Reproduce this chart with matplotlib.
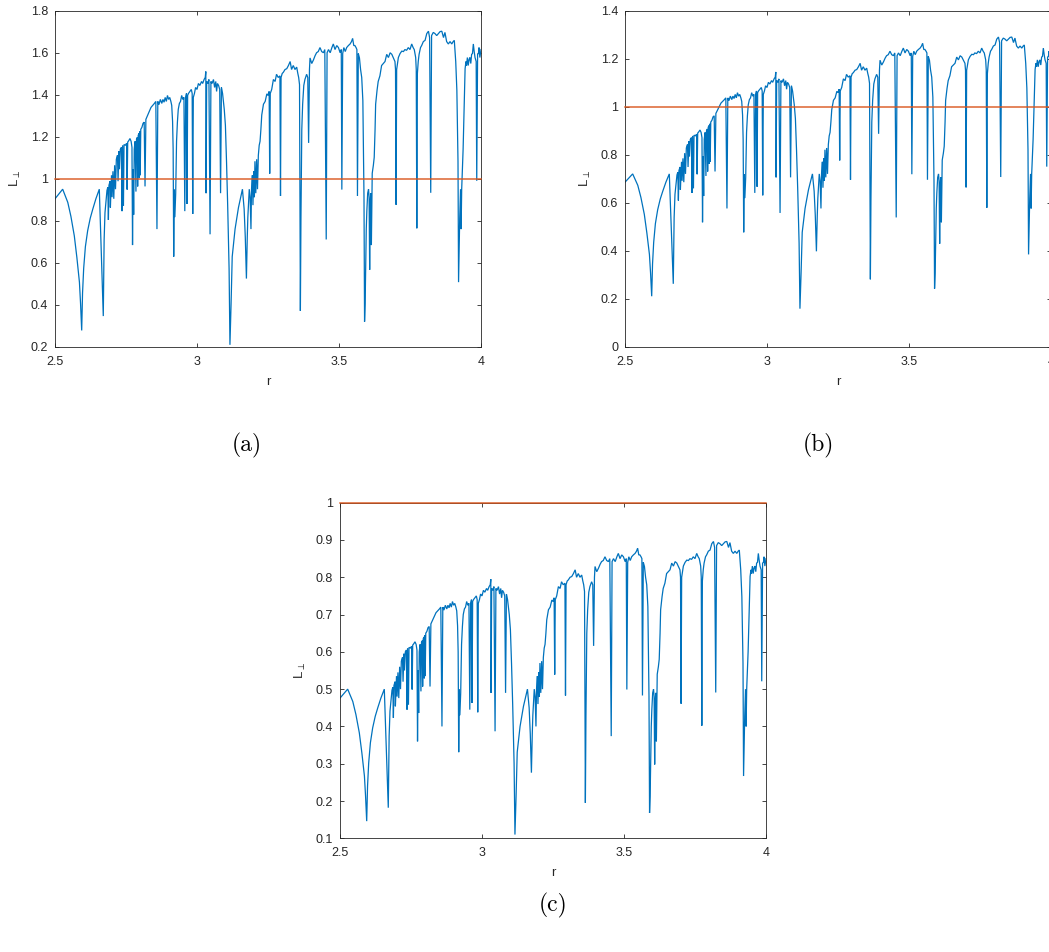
import matplotlib
matplotlib.use("Agg")
import matplotlib.pyplot as plt

# ---------------- data (panel (c) scale) ----------------
rA = [2.500, 2.527, 2.545, 2.556, 2.568, 2.577, 2.586, 2.590, 2.594, 2.597,
      2.601, 2.607, 2.615, 2.624, 2.633, 2.644, 2.656, 2.670, 2.673, 2.676, 2.683]
LA = [0.476, 0.500, 0.467, 0.432, 0.383, 0.329, 0.267, 0.213, 0.146, 0.240,
      0.302, 0.356, 0.396, 0.427, 0.450, 0.476, 0.500, 0.182, 0.374, 0.441, 0.497]

rB = [2.686, 2.688, 2.690, 2.694, 2.695, 2.699, 2.701, 2.704, 2.707, 2.710,
      2.713, 2.716, 2.720, 2.722, 2.725, 2.727, 2.730, 2.734, 2.736, 2.738,
      2.741, 2.743, 2.748, 2.752, 2.754, 2.756, 2.760, 2.764, 2.768, 2.771,
      2.773, 2.775, 2.777, 2.779, 2.782, 2.785, 2.787, 2.790, 2.791, 2.793,
      2.796, 2.797, 2.799, 2.800, 2.802, 2.806, 2.810, 2.814, 2.817, 2.820,
      2.826, 2.832, 2.838, 2.844, 2.850, 2.855, 2.859, 2.862, 2.866, 2.871,
      2.876, 2.880, 2.884, 2.888, 2.892, 2.896, 2.900, 2.904, 2.908, 2.911]
LB = [0.505, 0.423, 0.510, 0.520, 0.454, 0.535, 0.480, 0.545, 0.476, 0.560,
      0.500, 0.575, 0.585, 0.520, 0.595, 0.550, 0.600, 0.605, 0.445, 0.610,
      0.458, 0.612, 0.610, 0.615, 0.499, 0.618, 0.622, 0.627, 0.620, 0.605,
      0.360, 0.550, 0.436, 0.600, 0.620, 0.494, 0.625, 0.630, 0.507, 0.635,
      0.640, 0.529, 0.645, 0.535, 0.650, 0.655, 0.665, 0.668, 0.507, 0.675,
      0.685, 0.695, 0.705, 0.710, 0.715, 0.720, 0.400, 0.720, 0.712, 0.725,
      0.715, 0.725, 0.718, 0.730, 0.720, 0.735, 0.725, 0.730, 0.720, 0.710]

rC = [2.914, 2.916, 2.918, 2.920, 2.922, 2.925, 2.928, 2.931, 2.934, 2.938,
      2.942, 2.946, 2.950, 2.954, 2.957, 2.960, 2.963, 2.965, 2.967, 2.970,
      2.975, 2.980, 2.983, 2.985, 2.987, 2.991, 2.995, 3.000, 3.005, 3.010,
      3.016, 3.020, 3.025, 3.029, 3.031, 3.032, 3.034, 3.038, 3.042, 3.046,
      3.049, 3.053, 3.058, 3.062, 3.066, 3.069, 3.072, 3.076, 3.080, 3.083,
      3.086, 3.090, 3.093, 3.096, 3.100, 3.104, 3.108, 3.113, 3.116]
LC = [0.670, 0.600, 0.331, 0.499, 0.430, 0.490, 0.620, 0.668, 0.700, 0.715,
      0.720, 0.735, 0.725, 0.730, 0.445, 0.730, 0.740, 0.463, 0.735, 0.740,
      0.745, 0.750, 0.740, 0.438, 0.730, 0.740, 0.755, 0.750, 0.765, 0.760,
      0.770, 0.765, 0.775, 0.780, 0.795, 0.490, 0.770, 0.765, 0.775, 0.387,
      0.770, 0.765, 0.775, 0.755, 0.770, 0.745, 0.765, 0.760, 0.750, 0.490,
      0.755, 0.740, 0.720, 0.700, 0.660, 0.568, 0.460, 0.300, 0.110]

rD = [3.120, 3.124, 3.134, 3.146, 3.160, 3.166, 3.170, 3.174, 3.177, 3.179,
      3.184, 3.187, 3.190, 3.192, 3.195, 3.197, 3.200, 3.202, 3.204, 3.207,
      3.210, 3.213, 3.216, 3.219, 3.222, 3.225, 3.228, 3.231, 3.234, 3.240,
      3.246, 3.250, 3.254, 3.256, 3.258, 3.263, 3.269, 3.275, 3.280, 3.286,
      3.292, 3.294, 3.296, 3.300, 3.304, 3.310, 3.316, 3.322, 3.328, 3.333,
      3.339, 3.345, 3.351, 3.355, 3.358, 3.361]
LD = [0.213, 0.331, 0.400, 0.454, 0.500, 0.450, 0.380, 0.276, 0.380, 0.430,
      0.500, 0.480, 0.400, 0.500, 0.535, 0.460, 0.545, 0.480, 0.570, 0.490,
      0.575, 0.500, 0.585, 0.610, 0.620, 0.650, 0.686, 0.700, 0.713, 0.720,
      0.739, 0.735, 0.745, 0.539, 0.740, 0.750, 0.775, 0.770, 0.788, 0.780,
      0.784, 0.483, 0.780, 0.790, 0.793, 0.800, 0.802, 0.810, 0.820, 0.800,
      0.810, 0.800, 0.806, 0.790, 0.780, 0.762]

rE = [3.364, 3.366, 3.369, 3.372, 3.376, 3.380, 3.386, 3.390, 3.393, 3.396,
      3.398, 3.404, 3.410, 3.416, 3.421, 3.427, 3.433, 3.439, 3.445, 3.450,
      3.455, 3.458, 3.463, 3.469, 3.475, 3.480, 3.486, 3.492, 3.498, 3.504,
      3.508, 3.510, 3.513, 3.517, 3.522, 3.527, 3.533, 3.539, 3.544, 3.548,
      3.552, 3.556, 3.560, 3.563, 3.565, 3.568, 3.572, 3.576, 3.580, 3.584,
      3.586, 3.588, 3.590]
LE = [0.195, 0.427, 0.650, 0.713, 0.760, 0.775, 0.788, 0.780, 0.616, 0.800,
      0.829, 0.815, 0.824, 0.835, 0.842, 0.845, 0.855, 0.845, 0.842, 0.850,
      0.374, 0.842, 0.850, 0.842, 0.855, 0.864, 0.850, 0.860, 0.855, 0.842,
      0.850, 0.499, 0.840, 0.855, 0.845, 0.855, 0.860, 0.864, 0.870, 0.878,
      0.860, 0.860, 0.855, 0.850, 0.483, 0.840, 0.829, 0.800, 0.780, 0.722,
      0.600, 0.480, 0.168]

rF = [3.592, 3.596, 3.598, 3.601, 3.604, 3.606, 3.608, 3.610, 3.612, 3.614,
      3.617, 3.621, 3.624, 3.627, 3.629, 3.634, 3.638, 3.644, 3.650, 3.656,
      3.662, 3.668, 3.674, 3.680, 3.686, 3.691, 3.697, 3.699, 3.701, 3.703,
      3.705, 3.709, 3.715, 3.721, 3.727, 3.732, 3.738, 3.744, 3.750, 3.756,
      3.761, 3.765, 3.770, 3.772, 3.774, 3.776, 3.779, 3.782, 3.787, 3.791,
      3.797, 3.803, 3.809, 3.815, 3.819, 3.823, 3.826, 3.832, 3.838, 3.844,
      3.850, 3.856, 3.862, 3.868, 3.873, 3.879, 3.885, 3.891, 3.897, 3.902,
      3.906, 3.911, 3.915, 3.919]
LF = [0.213, 0.400, 0.445, 0.490, 0.500, 0.480, 0.298, 0.470, 0.490, 0.360,
      0.540, 0.560, 0.580, 0.650, 0.713, 0.748, 0.770, 0.784, 0.810, 0.815,
      0.820, 0.838, 0.830, 0.842, 0.838, 0.830, 0.820, 0.800, 0.461, 0.800,
      0.810, 0.830, 0.840, 0.846, 0.845, 0.850, 0.848, 0.855, 0.850, 0.864,
      0.855, 0.850, 0.830, 0.800, 0.402, 0.790, 0.820, 0.838, 0.855, 0.860,
      0.870, 0.873, 0.890, 0.896, 0.880, 0.491, 0.885, 0.893, 0.890, 0.885,
      0.890, 0.895, 0.896, 0.880, 0.893, 0.870, 0.864, 0.870, 0.864, 0.870,
      0.873, 0.820, 0.748, 0.570]

rG = [3.921, 3.925, 3.928, 3.930, 3.932, 3.934, 3.937, 3.939, 3.942, 3.944,
      3.947, 3.949, 3.952, 3.955, 3.958, 3.961, 3.964, 3.967, 3.970, 3.973,
      3.976, 3.979, 3.983, 3.985, 3.988, 3.991, 3.993, 3.996, 3.998, 4.000]
LG = [0.267, 0.427, 0.500, 0.400, 0.500, 0.543, 0.600, 0.660, 0.750, 0.802,
      0.820, 0.810, 0.830, 0.810, 0.825, 0.830, 0.815, 0.838, 0.840, 0.864,
      0.845, 0.830, 0.820, 0.521, 0.838, 0.840, 0.855, 0.830, 0.840, 0.850]

r_values = rA + rB + rC + rD + rE + rF + rG
L_values = LA + LB + LC + LD + LE + LF + LG

# panel scale factors (the three panels show the same curve with different normalisation)
panel_scales = [1.9, 1.44, 1.0]
threshold = 1.0

xticks = [2.5, 3, 3.5, 4]
xtick_labels = ['2.5', '3', '3.5', '4']
yticks_a = [0.2, 0.4, 0.6, 0.8, 1.0, 1.2, 1.4, 1.6, 1.8]
ylabels_a = ['0.2', '0.4', '0.6', '0.8', '1', '1.2', '1.4', '1.6', '1.8']
yticks_b = [0, 0.2, 0.4, 0.6, 0.8, 1.0, 1.2, 1.4]
ylabels_b = ['0', '0.2', '0.4', '0.6', '0.8', '1', '1.2', '1.4']
yticks_c = [0.1, 0.2, 0.3, 0.4, 0.5, 0.6, 0.7, 0.8, 0.9, 1.0]
ylabels_c = ['0.1', '0.2', '0.3', '0.4', '0.5', '0.6', '0.7', '0.8', '0.9', '1']
captions = ['(a)', '(b)', '(c)']

# ---------------- styling ----------------
W, H = 1049, 952
BLUE = '#0072BD'
ORANGE = '#D95319'
AX = '#262626'
plt.rcParams['font.family'] = ['Liberation Sans', 'DejaVu Sans']

fig = plt.figure(figsize=(W / 100, H / 100), dpi=100)


def axes_px(left, top, right, bottom):
    return fig.add_axes([left / W, 1 - bottom / H, (right - left) / W, (bottom - top) / H])


panels = [
    dict(box=(55, 10.7, 481, 346.7), yticks=yticks_a, ylabels=ylabels_a, cap=(247, 445)),
    dict(box=(625, 10.7, 1051, 346.7), yticks=yticks_b, ylabels=ylabels_b, cap=(818, 445)),
    dict(box=(340, 502.7, 766, 838.3), yticks=yticks_c, ylabels=ylabels_c, cap=(553, 905)),
]

for p, scale, cap in zip(panels, panel_scales, captions):
    ax = axes_px(*p['box'])
    yvals = [v * scale for v in L_values]
    ax.plot(r_values, yvals, color=BLUE, lw=0.9, solid_joinstyle='miter')
    ax.plot([xticks[0], xticks[-1]], [threshold, threshold], color=ORANGE, lw=1.1,
            alpha=0.9, clip_on=False, zorder=3)
    ax.set_xlim(xticks[0], xticks[-1])
    ax.set_ylim(p['yticks'][0], p['yticks'][-1])
    ax.set_xticks(xticks)
    ax.set_xticklabels(xtick_labels)
    ax.set_yticks(p['yticks'])
    ax.set_yticklabels(p['ylabels'])
    ax.tick_params(direction='in', top=True, right=True, length=3, width=0.6,
                   colors=AX, labelsize=9)
    ax.tick_params(axis='x', pad=6.5)
    ax.tick_params(axis='y', pad=5)
    for s in ax.spines.values():
        s.set_linewidth(0.6)
        s.set_color(AX)
    ax.set_xlabel('r', fontsize=9.5, color=AX, va='center')
    ax.xaxis.set_label_coords(0.5, -0.104)
    ax.set_ylabel(r'L$_{\perp}$', fontsize=9.5, color=AX, va='center', ha='center')
    ax.yaxis.set_label_coords(-0.094, 0.5)
    fig.text(p['cap'][0] / W, 1 - p['cap'][1] / H, cap, family='cmr10', fontsize=17,
             ha='center', va='center')

fig.savefig('out.png', dpi=100)
